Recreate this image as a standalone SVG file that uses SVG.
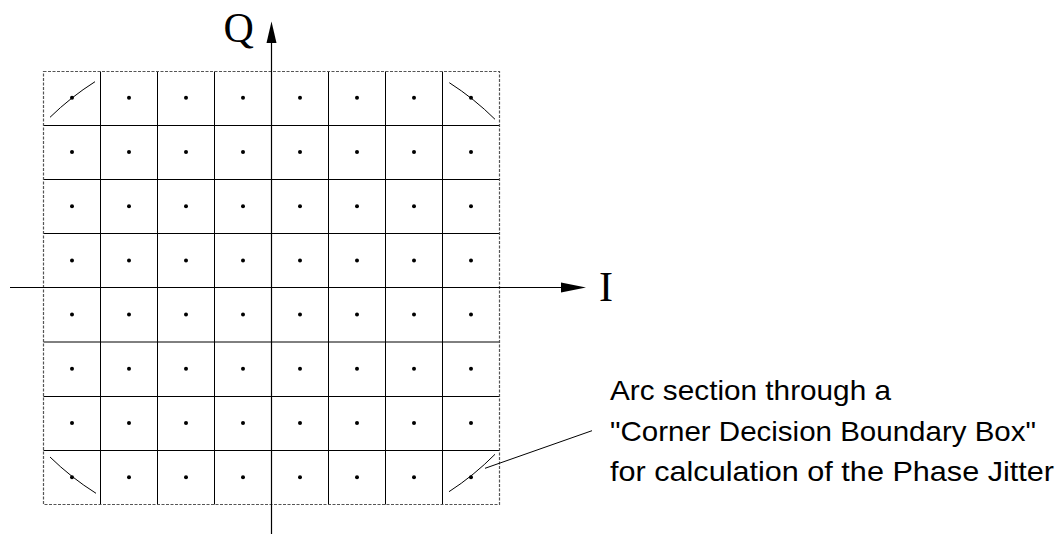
<svg xmlns="http://www.w3.org/2000/svg" width="1060" height="534" viewBox="0 0 1060 534">
<style>
.grid{stroke:#000;stroke-width:1;fill:none}
.border{stroke:#555;stroke-width:1.2;fill:none;stroke-dasharray:3 1.5}
.axis{stroke:#000;stroke-width:1.2;fill:none}
.arc{stroke:#000;stroke-width:1;fill:none}
.dot{fill:#000}
.lbl{font-family:"Liberation Serif","Times New Roman",serif;font-size:42px;fill:#000}
.note{font-family:"Liberation Sans",Arial,sans-serif;font-size:28px;fill:#000}
</style>
<rect width="1060" height="534" fill="#fff"/>
<g id="grid">
<path class="grid" d="M100.5 71.5V504.5M157.5 71.5V504.5M214.5 71.5V504.5M328.5 71.5V504.5M385.5 71.5V504.5M442.5 71.5V504.5"/>
<path class="grid" d="M43.5 125.5H499.5M43.5 179.5H499.5M43.5 233.5H499.5M43.5 342H499.5M43.5 396.5H499.5M43.5 450.5H499.5"/>
<rect class="border" x="43.5" y="71.5" width="456" height="433"/>
</g>
<g id="dots">
<g id="r1"><circle class="dot" cx="72" cy="97.8" r="2"/><circle class="dot" cx="129" cy="97.8" r="2"/><circle class="dot" cx="186" cy="97.8" r="2"/><circle class="dot" cx="243" cy="97.8" r="2"/><circle class="dot" cx="300" cy="97.8" r="2"/><circle class="dot" cx="357" cy="97.8" r="2"/><circle class="dot" cx="414" cy="97.8" r="2"/><circle class="dot" cx="471" cy="97.8" r="2"/></g>
<g id="r2"><circle class="dot" cx="72" cy="152" r="2"/><circle class="dot" cx="129" cy="152" r="2"/><circle class="dot" cx="186" cy="152" r="2"/><circle class="dot" cx="243" cy="152" r="2"/><circle class="dot" cx="300" cy="152" r="2"/><circle class="dot" cx="357" cy="152" r="2"/><circle class="dot" cx="414" cy="152" r="2"/><circle class="dot" cx="471" cy="152" r="2"/></g>
<g id="r3"><circle class="dot" cx="72" cy="206.2" r="2"/><circle class="dot" cx="129" cy="206.2" r="2"/><circle class="dot" cx="186" cy="206.2" r="2"/><circle class="dot" cx="243" cy="206.2" r="2"/><circle class="dot" cx="300" cy="206.2" r="2"/><circle class="dot" cx="357" cy="206.2" r="2"/><circle class="dot" cx="414" cy="206.2" r="2"/><circle class="dot" cx="471" cy="206.2" r="2"/></g>
<g id="r4"><circle class="dot" cx="72" cy="260.4" r="2"/><circle class="dot" cx="129" cy="260.4" r="2"/><circle class="dot" cx="186" cy="260.4" r="2"/><circle class="dot" cx="243" cy="260.4" r="2"/><circle class="dot" cx="300" cy="260.4" r="2"/><circle class="dot" cx="357" cy="260.4" r="2"/><circle class="dot" cx="414" cy="260.4" r="2"/><circle class="dot" cx="471" cy="260.4" r="2"/></g>
<g id="r5"><circle class="dot" cx="72" cy="314.6" r="2"/><circle class="dot" cx="129" cy="314.6" r="2"/><circle class="dot" cx="186" cy="314.6" r="2"/><circle class="dot" cx="243" cy="314.6" r="2"/><circle class="dot" cx="300" cy="314.6" r="2"/><circle class="dot" cx="357" cy="314.6" r="2"/><circle class="dot" cx="414" cy="314.6" r="2"/><circle class="dot" cx="471" cy="314.6" r="2"/></g>
<g id="r6"><circle class="dot" cx="72" cy="368.8" r="2"/><circle class="dot" cx="129" cy="368.8" r="2"/><circle class="dot" cx="186" cy="368.8" r="2"/><circle class="dot" cx="243" cy="368.8" r="2"/><circle class="dot" cx="300" cy="368.8" r="2"/><circle class="dot" cx="357" cy="368.8" r="2"/><circle class="dot" cx="414" cy="368.8" r="2"/><circle class="dot" cx="471" cy="368.8" r="2"/></g>
<g id="r7"><circle class="dot" cx="72" cy="423" r="2"/><circle class="dot" cx="129" cy="423" r="2"/><circle class="dot" cx="186" cy="423" r="2"/><circle class="dot" cx="243" cy="423" r="2"/><circle class="dot" cx="300" cy="423" r="2"/><circle class="dot" cx="357" cy="423" r="2"/><circle class="dot" cx="414" cy="423" r="2"/><circle class="dot" cx="471" cy="423" r="2"/></g>
<g id="r8"><circle class="dot" cx="72" cy="477.2" r="2"/><circle class="dot" cx="129" cy="477.2" r="2"/><circle class="dot" cx="186" cy="477.2" r="2"/><circle class="dot" cx="243" cy="477.2" r="2"/><circle class="dot" cx="300" cy="477.2" r="2"/><circle class="dot" cx="357" cy="477.2" r="2"/><circle class="dot" cx="414" cy="477.2" r="2"/><circle class="dot" cx="471" cy="477.2" r="2"/></g>
</g>
<g id="arcs">
<path class="arc" d="M50 117.3A275 275 0 0 1 95 81.7"/>
<path class="arc" d="M449.3 82.7A275 275 0 0 1 495 119.3"/>
<path class="arc" d="M495 454.3A275 275 0 0 1 449 491.7"/>
<path class="arc" d="M96 493.3A275 275 0 0 1 50 457"/>
</g>
<g id="axes">
<path class="axis" d="M10 287.5H562"/>
<polygon points="561,282.5 586,287.5 561,292.5" fill="#000"/>
<path class="axis" d="M271.5 534V42"/>
<polygon points="266.5,43 271.5,21.5 276.5,43" fill="#000"/>
</g>
<g id="labels">
<text class="lbl" x="223.5" y="42">Q</text>
<text class="lbl" x="599" y="300.5">I</text>
</g>
<g id="callout">
<path class="arc" d="M485 468.3L592 430.7"/>
<text class="note" x="610" y="400" textLength="281" lengthAdjust="spacingAndGlyphs">Arc section through a</text>
<text class="note" x="610" y="441" textLength="426" lengthAdjust="spacingAndGlyphs">"Corner Decision Boundary Box"</text>
<text class="note" x="610" y="481" textLength="444" lengthAdjust="spacingAndGlyphs">for calculation of the Phase Jitter</text>
</g>
</svg>
